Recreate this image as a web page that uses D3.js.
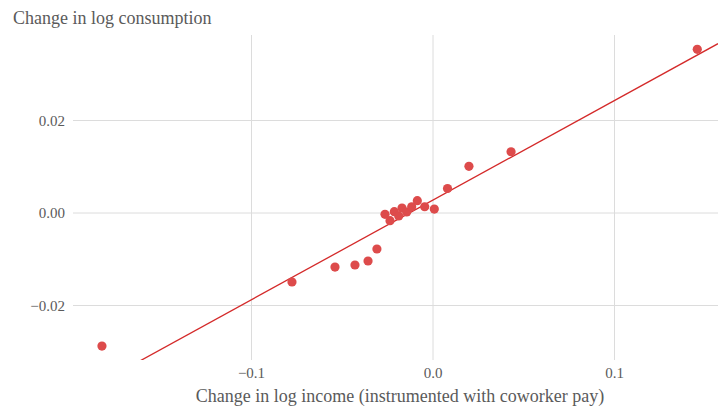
<!DOCTYPE html>
<html><head><meta charset="utf-8">
<script src="https://cdn.jsdelivr.net/npm/d3@7"></script>
<style>body{margin:0;background:#fff}svg{display:block}</style>
</head><body>
<svg id="c" width="718" height="407"></svg>
<script>
const xValues = [-0.1824,-0.0777,-0.0540,-0.0430,-0.0358,-0.0309,-0.02645,-0.02369,-0.02132,-0.01890,-0.01708,-0.01449,-0.01174,-0.00865,-0.00457,0.00072,0.0080,0.0198,0.0430,0.1456];
const yValues = [-0.02876,-0.01492,-0.01168,-0.01124,-0.01038,-0.00778,-0.00028,-0.00166,0.00028,-0.00065,0.00108,0.00022,0.00136,0.00266,0.00136,0.00086,0.0053,0.0101,0.01325,0.0354];
const fitIntercept = 0.0028;
const fitSlope = 0.2154;
const xTicks = [-0.1, 0.0, 0.1];
const yTicks = [-0.02, 0.00, 0.02];
const xTickLabels = ["\u22120.1","0.0","0.1"];
const yTickLabels = ["\u22120.02","0.00","0.02"];
const yTitle = "Change in log consumption";
const xTitle = "Change in log income (instrumented with coworker pay)";

const svg = d3.select("#c");
const L=73,R=718,T=35,B=360;
const x = d3.scaleLinear().domain([-0.19835,0.15702]).range([L,R]);
const y = d3.scaleLinear().domain([-0.03178,0.03849]).range([B,T]);
const font = "'Liberation Serif','Times New Roman',serif";
const grey = "#5a5a5a";

svg.append("defs").append("clipPath").attr("id","clip").append("rect")
  .attr("x",L).attr("y",T).attr("width",R-L).attr("height",B-T);

svg.append("g").selectAll("line").data(xTicks).join("line")
  .attr("x1",d=>x(d)).attr("x2",d=>x(d)).attr("y1",T).attr("y2",B)
  .attr("stroke","#dcdcdc").attr("stroke-width",1);
svg.append("g").selectAll("line").data(yTicks).join("line")
  .attr("x1",L).attr("x2",R).attr("y1",d=>y(d)).attr("y2",d=>y(d))
  .attr("stroke","#dcdcdc").attr("stroke-width",1);

svg.append("g").selectAll("text").data(yTicks).join("text")
  .attr("x",65).attr("y",d=>y(d)).attr("dy","0.35em").attr("text-anchor","end")
  .attr("font-family",font).attr("font-size",15).attr("fill",grey)
  .text((d,i)=>yTickLabels[i]);
svg.append("g").selectAll("text").data(xTicks).join("text")
  .attr("x",d=>x(d)).attr("y",373).attr("dy","0.35em").attr("text-anchor","middle")
  .attr("font-family",font).attr("font-size",15).attr("fill",grey)
  .text((d,i)=>xTickLabels[i]);

const xd = x.domain();
svg.append("line").attr("clip-path","url(#clip)")
  .attr("x1",x(xd[0])).attr("y1",y(fitIntercept+fitSlope*xd[0]))
  .attr("x2",x(xd[1])).attr("y2",y(fitIntercept+fitSlope*xd[1]))
  .attr("stroke","#d42a2a").attr("stroke-width",1.3);

svg.append("g").selectAll("circle").data(xValues).join("circle")
  .attr("cx",d=>x(d)).attr("cy",(d,i)=>y(yValues[i])).attr("r",4.6)
  .attr("fill","#dd4b4b");

svg.append("text").attr("x",13).attr("y",18).attr("dy","0.35em")
  .attr("font-family",font).attr("font-size",18).attr("fill",grey).text(yTitle);
svg.append("text").attr("x",400).attr("y",396).attr("dy","0.35em").attr("text-anchor","middle")
  .attr("font-family",font).attr("font-size",18).attr("fill",grey).text(xTitle);
</script>
</body></html>
